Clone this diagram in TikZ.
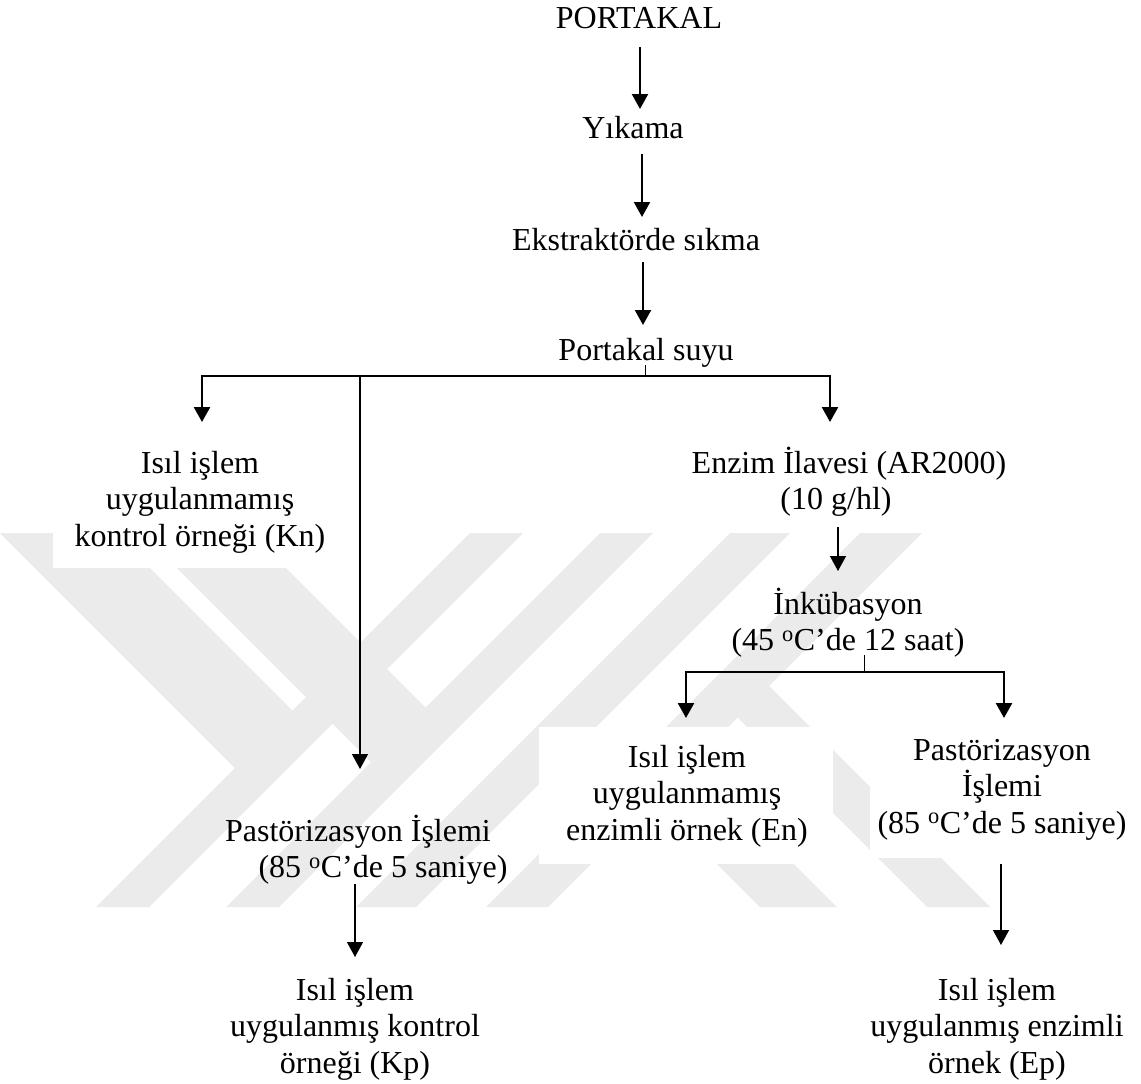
\documentclass[tikz,border=0pt]{standalone}
\usepackage{fontspec}
\setmainfont{Liberation Serif}
\usetikzlibrary{arrows.meta,calc}
\tikzset{
  txt/.style={anchor=base, align=center, inner sep=0pt, font=\fontsize{32}{36.5}\selectfont},
  tip/.style={-{Triangle[width=16pt,length=15pt]}},
  arr/.style={tip, line width=2.2pt},
  arrthin/.style={tip, line width=1.3pt},
  hline/.style={line width=2.5pt},
  tick/.style={line width=1pt},
  wm/.style={fill=black!8, draw=none},
  wbox/.style={fill=white, draw=none}
}
\begin{document}
\begin{tikzpicture}[x=1pt, y=-1pt]
\useasboundingbox (0,0) rectangle (1141,1084);
\fill[white] (0,0) rectangle (1141,1084);
% watermark
\fill[wm] (470,533) -- (523,533) -- (149,907) -- (96,907) -- cycle;
\fill[wm] (600,533) -- (653,533) -- (279,907) -- (226,907) -- cycle;
\fill[wm] (730,533) -- (790,533) -- (416,907) -- (356,907) -- cycle;
\fill[wm] (860,533) -- (922,533) -- (548,907) -- (486,907) -- cycle;
\fill[wm] (0,533) -- (115,533) -- (292.5,710.5) -- (235,768) -- cycle;
\fill[wm] (142,533) -- (251,533) -- (425.5,707.5) -- (371,762) -- cycle;
\fill[wm] (737.5,717.5) -- (769,686) -- (990,907) -- (927,907) -- cycle;
\fill[wm] (654,801) -- (692.5,762.5) -- (837,907) -- (760,907) -- cycle;
\fill[wbox] (53,428) rectangle (330,568);
\fill[wbox] (539,727) rectangle (833,864);
\fill[wbox] (870,727) rectangle (1135,858);
% nodes (anchor base = baseline of the last line)
\node[txt] (port) at (639,28) {PORTAKAL};
\node[txt] (yik) at (633,138) {Yıkama};
\node[txt] (eks) at (636,250) {Ekstraktörde sıkma};
\node[txt] (psu) at (646,360) {Portakal suyu};
\node[txt] (kn) at (200,546) {Isıl işlem\\uygulanmamış\\kontrol örneği (Kn)};
\node[txt] (enz) at (849,509.5) {Enzim İlavesi (AR2000)\\(10 g/hl)\hspace*{26pt}};
\node[txt] (ink) at (848,650.5) {İnkübasyon\\(45 \textsuperscript{o}C’de 12 saat)};
\node[txt] (en) at (687,840) {Isıl işlem\\uygulanmamış\\enzimli örnek (En)};
\node[txt] (rp) at (1002,833) {Pastörizasyon\\İşlemi\\(85 \textsuperscript{o}C’de 5 saniye)};
\node[txt] (lp) at (358,877.5) {Pastörizasyon İşlemi\\\hspace*{50pt}(85 \textsuperscript{o}C’de 5 saniye)};
\node[txt] (kp) at (355,1073) {Isıl işlem\\uygulanmış kontrol\\örneği (Kp)};
\node[txt] (ep) at (997,1073) {Isıl işlem\\uygulanmış enzimli\\örnek (Ep)};
% connectors
\draw[arr] ($(port.base)+(1,19)$) -- ($(yik.base)+(7,-29)$);
\draw[arr] ($(yik.base)+(9,16)$) -- ($(eks.base)+(6,-33)$);
\draw[arr] ($(eks.base)+(7,12)$) -- ($(psu.base)+(-3,-35)$);
\coordinate (j1) at ($(psu.base)+(-1,16)$);
\coordinate (knin) at ($(kn.base)+(2,-124)$);
\coordinate (enzin) at ($(enz.base)+(-19,-87.5)$);
\coordinate (lpin) at ($(lp.base)+(2,-108.5)$);
\draw[tick] ($(psu.base)+(-1,5)$) -- (j1);
\draw[arrthin] (lpin |- j1) -- (lpin);
\draw[hline, {Triangle[width=16pt,length=15pt]}-{Triangle[width=16pt,length=15pt]}, line join=miter]
  (knin) -- (knin |- j1) -- (enzin |- j1) -- (enzin);
\draw[arrthin] ($(enz.base)+(-11,17.5)$) -- ($(ink.base)+(-10,-79.5)$);
\coordinate (j2) at ($(ink.base)+(16,21.5)$);
\coordinate (enin) at ($(en.base)+(-1,-122)$);
\coordinate (rpin) at ($(rp.base)+(2,-115)$);
\draw[tick] ($(ink.base)+(16,4.5)$) -- (j2);
\draw[hline, {Triangle[width=16pt,length=15pt]}-{Triangle[width=16pt,length=15pt]}, line join=miter]
  (enin) -- (enin |- j2) -- (rpin |- j2) -- (rpin);
\draw[arrthin] ($(lp.base)+(-3,6.5)$) -- ($(kp.base)+(0,-116)$);
\draw[arrthin] ($(rp.base)+(-1,31)$) -- ($(ep.base)+(4,-128)$);
\end{tikzpicture}
\end{document}
